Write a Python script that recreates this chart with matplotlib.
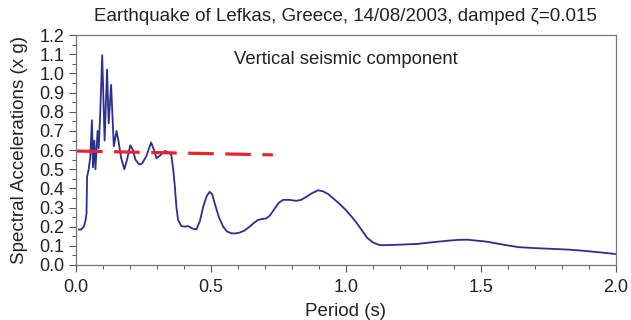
import matplotlib
matplotlib.use("Agg")
import matplotlib.pyplot as plt
from matplotlib.ticker import MultipleLocator

plt.rcParams["font.family"] = ["Liberation Sans", "DejaVu Sans"]

# spectral acceleration (period in s, accel in g)
period = [0.012, 0.02, 0.03, 0.036, 0.04, 0.042, 0.048, 0.054, 0.06, 0.064,
          0.069, 0.073, 0.081, 0.085, 0.091, 0.098, 0.107, 0.116, 0.122,
          0.131, 0.141, 0.151, 0.158, 0.168, 0.18, 0.19, 0.202, 0.212,
          0.221, 0.235, 0.246, 0.262, 0.279, 0.29, 0.299, 0.315, 0.33,
          0.342, 0.354, 0.361, 0.367, 0.373, 0.379, 0.391, 0.405, 0.416,
          0.432, 0.447, 0.46, 0.472, 0.485, 0.496, 0.505, 0.515, 0.53,
          0.546, 0.56, 0.577, 0.592, 0.607, 0.625, 0.644, 0.66, 0.675,
          0.69, 0.706, 0.72, 0.737, 0.752, 0.768, 0.79, 0.817, 0.835,
          0.854, 0.875, 0.897, 0.915, 0.935, 0.96, 0.98, 1.0, 1.02, 1.04,
          1.06, 1.079, 1.1, 1.12, 1.135, 1.16, 1.2, 1.266, 1.33, 1.38,
          1.416, 1.45, 1.478, 1.52, 1.56, 1.6, 1.64, 1.7, 1.75, 1.827,
          1.88, 1.94, 2.0]
accel = [0.185, 0.185, 0.2, 0.23, 0.27, 0.46, 0.5, 0.565, 0.756, 0.51,
         0.65, 0.5, 0.7, 0.61, 0.8, 1.095, 0.65, 1.02, 0.74,
         0.94, 0.62, 0.7, 0.65, 0.56, 0.5, 0.55, 0.625, 0.6,
         0.55, 0.525, 0.53, 0.57, 0.64, 0.6, 0.557, 0.575, 0.595,
         0.59, 0.574, 0.5, 0.41, 0.3, 0.235, 0.203, 0.2, 0.203,
         0.19, 0.186, 0.23, 0.304, 0.36, 0.382, 0.37, 0.32, 0.25,
         0.2, 0.175, 0.165, 0.165, 0.169, 0.18, 0.2, 0.22, 0.235,
         0.24, 0.243, 0.26, 0.295, 0.325, 0.34, 0.34, 0.335, 0.34,
         0.356, 0.375, 0.39, 0.385, 0.37, 0.34, 0.315, 0.287, 0.255, 0.22,
         0.18, 0.142, 0.118, 0.106, 0.103, 0.104, 0.106, 0.11, 0.12, 0.127,
         0.131, 0.132, 0.128, 0.122, 0.112, 0.102, 0.093, 0.088, 0.085, 0.08,
         0.074, 0.066, 0.057]

# red dashed reference level
level_period = [0.005, 0.73]
level_accel = [0.595, 0.575]

fig = plt.figure(figsize=(6.31, 3.2), dpi=100)
ax = fig.add_axes([0.12, 0.172, 0.856, 0.718])

ax.plot(period, accel, color="#2b2f8f", lw=1.3, zorder=2)
ax.plot(level_period, level_accel, color="#e8242a", lw=2.3,
        dashes=(8, 3.6), zorder=3)

ax.set_xlim(0, 2.0)
ax.set_ylim(0, 1.2)
ax.xaxis.set_major_locator(MultipleLocator(0.5))
ax.xaxis.set_minor_locator(MultipleLocator(0.1))
ax.yaxis.set_major_locator(MultipleLocator(0.1))
ax.yaxis.set_minor_locator(MultipleLocator(0.05))
ax.xaxis.set_major_formatter(lambda v, p: f"{v:.1f}")
ax.yaxis.set_major_formatter(lambda v, p: f"{v:.1f}")

ax.tick_params(which="both", direction="out", colors="#555555",
               labelcolor="#222222", labelsize=13)
ax.tick_params(which="major", length=5, width=0.8, pad=3)
ax.tick_params(which="minor", length=3, width=0.7)
ax.tick_params(axis="x", which="major", pad=5)
for s in ax.spines.values():
    s.set_color("#777777")
    s.set_linewidth(0.9)

ax.set_xlabel("Period (s)", fontsize=13.5, color="#222222", labelpad=5)
ax.set_ylabel("Spectral Accelerations (x g)", fontsize=13.5,
              color="#222222", labelpad=8)
ax.set_title("Earthquake of Lefkas, Greece, 14/08/2003, damped \u03b6=0.015",
             fontsize=13.5, color="#222222", pad=10)
ax.text(1.0, 1.075, "Vertical seismic component", fontsize=13.3,
        color="#222222", ha="center", va="center")

fig.savefig("out.png", dpi=100)
plt.close(fig)
